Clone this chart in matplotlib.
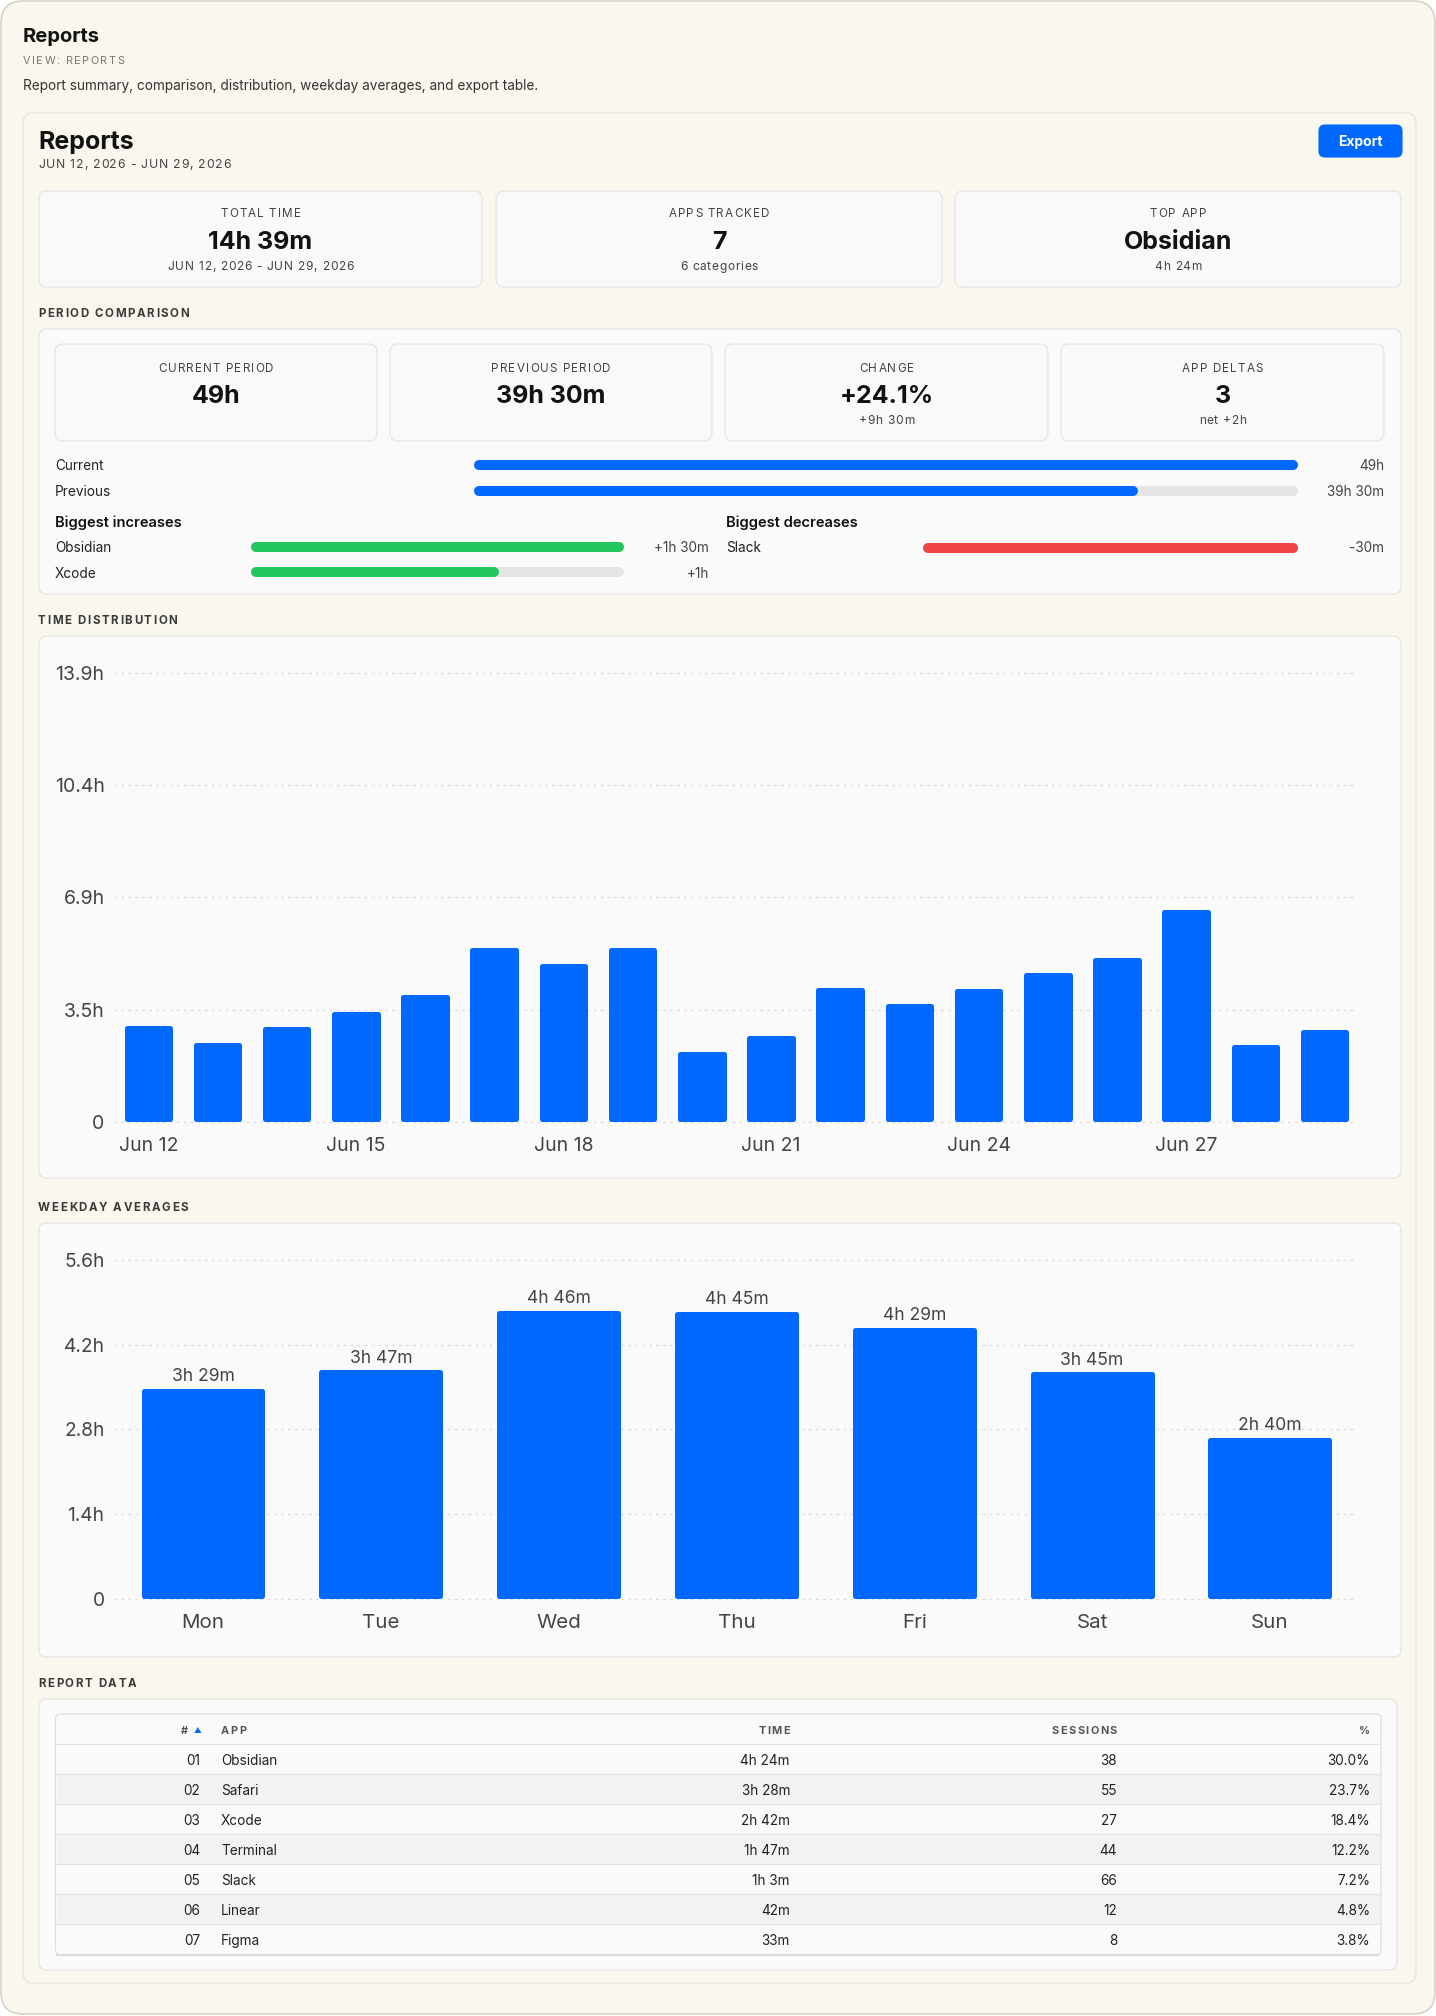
import numpy as np
import matplotlib.pyplot as plt
from matplotlib.patches import FancyBboxPatch, Rectangle
from matplotlib.textpath import TextToPath
from matplotlib.font_manager import FontProperties

plt.rcParams['font.family'] = ['Inter', 'DejaVu Sans']

W, H = 1436, 2016
BLUE = '#0068ff'

# ---- data ----
summary_titles = ['TOTAL TIME', 'APPS TRACKED', 'TOP APP']
summary_values = ['14h 39m', '7', 'Obsidian']
summary_notes = ['JUN 12, 2026 - JUN 29, 2026', '6 categories', '4h 24m']

period_titles = ['CURRENT PERIOD', 'PREVIOUS PERIOD', 'CHANGE', 'APP DELTAS']
period_values = ['49h', '39h 30m', '+24.1%', '3']
period_notes = ['', '', '+9h 30m', 'net +2h']

compare_names = ['Current', 'Previous']
compare_hours = [49.0, 39.5]
compare_text = ['49h', '39h 30m']

inc_apps = ['Obsidian', 'Xcode']
inc_hours = [1.5, 1.0]
inc_text = ['+1h 30m', '+1h']
dec_apps = ['Slack']
dec_hours = [0.5]
dec_text = ['-30m']

day_labels = ['Jun 12', 'Jun 13', 'Jun 14', 'Jun 15', 'Jun 16', 'Jun 17',
              'Jun 18', 'Jun 19', 'Jun 20', 'Jun 21', 'Jun 22', 'Jun 23',
              'Jun 24', 'Jun 25', 'Jun 26', 'Jun 27', 'Jun 28', 'Jun 29']
daily_hours = [2.99, 2.47, 2.96, 3.43, 3.93, 5.41, 4.89, 5.39, 2.18,
               2.68, 4.17, 3.65, 4.12, 4.61, 5.10, 6.58, 2.38, 2.86]
dist_ticks = [0, 3.475, 6.95, 10.425, 13.9]
dist_tick_labels = ['0', '3.5h', '6.9h', '10.4h', '13.9h']

weekdays = ['Mon', 'Tue', 'Wed', 'Thu', 'Fri', 'Sat', 'Sun']
weekday_minutes = [209, 227, 286, 285, 269, 225, 160]
weekday_text = ['3h 29m', '3h 47m', '4h 46m', '4h 45m', '4h 29m', '3h 45m', '2h 40m']
week_ticks = [0, 1.4, 2.8, 4.2, 5.6]
week_tick_labels = ['0', '1.4h', '2.8h', '4.2h', '5.6h']

table_rank = ['01', '02', '03', '04', '05', '06', '07']
table_app = ['Obsidian', 'Safari', 'Xcode', 'Terminal', 'Slack', 'Linear', 'Figma']
table_time = ['4h 24m', '3h 28m', '2h 42m', '1h 47m', '1h 3m', '42m', '33m']
table_sessions = [38, 55, 27, 44, 66, 12, 8]
table_pct = ['30.0%', '23.7%', '18.4%', '12.2%', '7.2%', '4.8%', '3.8%']


def fig_rect(x0, y0, x1, y1):
    return [x0 / W, 1 - y1 / H, (x1 - x0) / W, (y1 - y0) / H]


fig = plt.figure(figsize=(W / 100, H / 100), dpi=100, facecolor='white')
bg = fig.add_axes([0, 0, 1, 1])
bg.set_xlim(0, W)
bg.set_ylim(H, 0)
bg.axis('off')

ttp = TextToPath()


def rbox(x0, y0, x1, y1, fc, ec, r=8, lw=0.8):
    bg.add_patch(FancyBboxPatch((x0, y0), x1 - x0, y1 - y0,
                                boxstyle=f'round,pad=0,rounding_size={r}',
                                fc=fc, ec=ec, lw=lw))


def txt(x, y, s, size, color='#1a1a1a', weight='normal', ha='left'):
    bg.text(x, y, s, fontsize=size, color=color, fontweight=weight,
            ha=ha, va='center')


def spaced(x, y, s, size, color='#444444', weight='normal', ha='left', track=1.2):
    # letter-spaced text, one glyph at a time
    prop = FontProperties(family=['Inter', 'DejaVu Sans'], size=size, weight=weight)

    def tw(t):
        return ttp.get_text_width_height_descent(t, prop, ismath=False)[0] * 100 / 72

    bar_w = tw('|')
    pos = [0.0] + [tw(s[:k] + '|') - bar_w for k in range(1, len(s))]
    total = tw(s) + track * (len(s) - 1)
    x0 = x - total / 2 if ha == 'center' else (x - total if ha == 'right' else x)
    for k, ch in enumerate(s):
        if ch != ' ':
            bg.text(x0 + pos[k] + k * track, y, ch, fontproperties=prop,
                    color=color, ha='left', va='center')


# window + panel
rbox(1, 1, W - 1, H - 2, '#faf7ef', '#d6d3ca', r=22, lw=1.2)
rbox(23, 113, 1416, 1983, '#faf7ef', '#e6e2d8', r=10)

txt(23, 37, 'Reports', 14.5, '#111111', 'bold')
spaced(23, 61, 'VIEW: REPORTS', 7.8, '#777777', track=1.5)
txt(23, 86, 'Report summary, comparison, distribution, weekday averages, and export table.', 9.8, '#333333')

txt(38, 142, 'Reports', 18, '#111111', 'bold')
spaced(38, 165, 'JUN 12, 2026 - JUN 29, 2026', 8.8, '#444444', track=0.8)
rbox(1319, 125, 1402, 157, BLUE, BLUE, r=6)
txt(1360.5, 142, 'Export', 10, 'white', 'bold', 'center')

# summary cards
for (x0, x1), t, v, n in zip([(39, 482), (496, 942), (955, 1401)],
                             summary_titles, summary_values, summary_notes):
    rbox(x0, 191, x1, 287, '#f9f9f9', '#e3e3e3', r=8)
    cx = (x0 + x1) / 2
    spaced(cx, 214, t, 8.4, '#444444', ha='center', track=1.1)
    txt(cx, 242.5, v, 18, '#111111', 'bold', 'center')
    spaced(cx, 267, n, 8.6, '#444444', ha='center', track=0.7)

# section labels
for y, s in [(314, 'PERIOD COMPARISON'), (621, 'TIME DISTRIBUTION'),
             (1208, 'WEEKDAY AVERAGES'), (1684, 'REPORT DATA')]:
    spaced(38, y, s, 8.3, '#3a3a3a', 'bold', track=1.6)

# period comparison
rbox(39, 329, 1401, 594, '#fafafa', '#e3e3e3', r=8)
for (x0, x1), t, v, n in zip([(55, 377), (390, 712), (725, 1048), (1061, 1384)],
                             period_titles, period_values, period_notes):
    rbox(x0, 344, x1, 441, '#f9f9f9', '#e3e3e3', r=8)
    cx = (x0 + x1) / 2
    spaced(cx, 368.5, t, 8.4, '#444444', ha='center', track=1.1)
    txt(cx, 396.5, v, 18, '#111111', 'bold', 'center')
    if n:
        spaced(cx, 420.5, n, 8.6, '#444444', ha='center', track=0.7)


def progress(x0, x1, ys, values, vmax, color):
    ax = fig.add_axes(fig_rect(x0 - 6, ys[0] - 12, x1 + 6, ys[-1] + 12))
    ax.set_xlim(-6 * vmax / (x1 - x0), vmax + 6 * vmax / (x1 - x0))
    ax.set_ylim(ys[-1] + 12, ys[0] - 12)
    ax.axis('off')
    r = 5 * vmax / (x1 - x0)
    ax.hlines(ys, r, vmax - r, color='#e5e5e5', lw=7.2, capstyle='round')
    ax.hlines(ys, r, np.array(values) - r, color=color, lw=7.2, capstyle='round')


ys = [465.5, 490.5]
for y, nme, s in zip(ys, compare_names, compare_text):
    txt(55, y + 1, nme, 9.8, '#222222')
    txt(1384, y + 1, s, 9.8, '#444444', ha='right')
progress(474, 1298, ys, compare_hours, max(compare_hours), BLUE)

txt(55, 523, 'Biggest increases', 10.6, '#111111', 'semibold')
txt(726, 523, 'Biggest decreases', 10.6, '#111111', 'semibold')
ys = [547.5, 572.5]
for y, nme, s in zip(ys, inc_apps, inc_text):
    txt(55, y + 1, nme, 9.8, '#222222')
    txt(709, y + 1, s, 9.8, '#444444', ha='right')
progress(251, 623.5, ys, inc_hours, max(inc_hours), '#22c55e')
ys = [547.5]
for y, nme, s in zip(ys, dec_apps, dec_text):
    txt(726, y + 1, nme, 9.8, '#222222')
    txt(1384, y + 1, s, 9.8, '#444444', ha='right')
progress(923, 1298, ys, dec_hours, max(dec_hours), '#ef4444')


def style_chart(ax, xsize, ysize, xpad):
    for sp in ax.spines.values():
        sp.set_visible(False)
    ax.tick_params(axis='y', length=0, labelsize=ysize, colors='#444444', pad=6.8)
    ax.tick_params(axis='x', length=0, labelsize=xsize, colors='#444444', pad=xpad)
    ax.grid(axis='y', color='#dedede', linestyle=(0, (2, 3)), lw=1)
    ax.set_axisbelow(True)
    ax.patch.set_alpha(0)


# time distribution
rbox(39, 636, 1401, 1178, '#fafafa', '#e3e3e3', r=8)
ax = fig.add_axes(fig_rect(114, 650, 1355, 1130))
ax.set_xlim(-0.496, 17.44)
ax.set_ylim(-0.254, 14.609)
e = 2.5 * 13.9 / 448.9          # half of the rounded stroke, in data units
xs = np.arange(len(daily_hours))
ax.bar(xs, np.array(daily_hours) - 2 * e, bottom=e, width=0.63, color=BLUE,
       edgecolor=BLUE, linewidth=3.6, joinstyle='round', zorder=3)
ax.set_yticks(dist_ticks, dist_tick_labels)
ax.set_xticks(xs[::3], day_labels[::3])
style_chart(ax, 14, 14, 5.3)

# weekday averages
rbox(39, 1223, 1401, 1657, '#fafafa', '#e3e3e3', r=8)
ax2 = fig.add_axes(fig_rect(114, 1245, 1355, 1605))
ax2.set_xlim(-0.5006, 6.479)
ax2.set_ylim(-0.104, 5.848)
e2 = 2.5 * 5.6 / 338.7
wx = np.arange(len(weekdays))
bars = ax2.bar(wx, np.array(weekday_minutes) / 60 - 2 * e2, bottom=e2, width=0.669,
               color=BLUE, edgecolor=BLUE, linewidth=3.6, joinstyle='round', zorder=3)
ax2.bar_label(bars, labels=weekday_text, padding=4, fontsize=12.6, color='#444444')
ax2.set_yticks(week_ticks, week_tick_labels)
ax2.set_xticks(wx, weekdays)
style_chart(ax2, 14.8, 13.8, 6.2)

# report table
rbox(39, 1699, 1397, 1970, '#fafafa', '#e3e3e3', r=8)
rbox(55.5, 1714, 1381, 1955, '#fafafa', '#dddddd', r=5)
for i in range(len(table_app)):
    top = 1744 + 30 * i
    if i % 2 == 1:
        bg.add_patch(Rectangle((56.5, top), 1323.5, 30, fc='#f2f2f2', ec='none'))
    bg.plot([56, 1380], [top, top], color='#e3e3e3', lw=0.9)
bg.plot([57, 1379], [1954.5, 1954.5], color='#dcdcdc', lw=1.6)

hy = 1731
spaced(188, hy, '#', 7.9, '#555555', 'bold', 'right', track=0)
bg.text(197, hy, '▲', fontsize=5.5, color=BLUE, ha='center', va='center')
spaced(221, hy, 'APP', 7.9, '#555555', 'bold', track=1.4)
spaced(790, hy, 'TIME', 7.9, '#555555', 'bold', 'right', track=1.4)
spaced(1117, hy, 'SESSIONS', 7.9, '#555555', 'bold', 'right', track=1.4)
spaced(1370, hy, '%', 7.9, '#555555', 'bold', 'right', track=0)
for i in range(len(table_app)):
    y = 1761 + 30 * i
    txt(200.5, y, table_rank[i], 9.8, '#222222', ha='right')
    txt(221, y, table_app[i], 9.8, '#222222')
    txt(790, y, table_time[i], 9.8, '#222222', ha='right')
    txt(1117, y, str(table_sessions[i]), 9.8, '#222222', ha='right')
    txt(1370, y, table_pct[i], 9.8, '#222222', ha='right')

fig.savefig('out.png', dpi=100, facecolor='white')
